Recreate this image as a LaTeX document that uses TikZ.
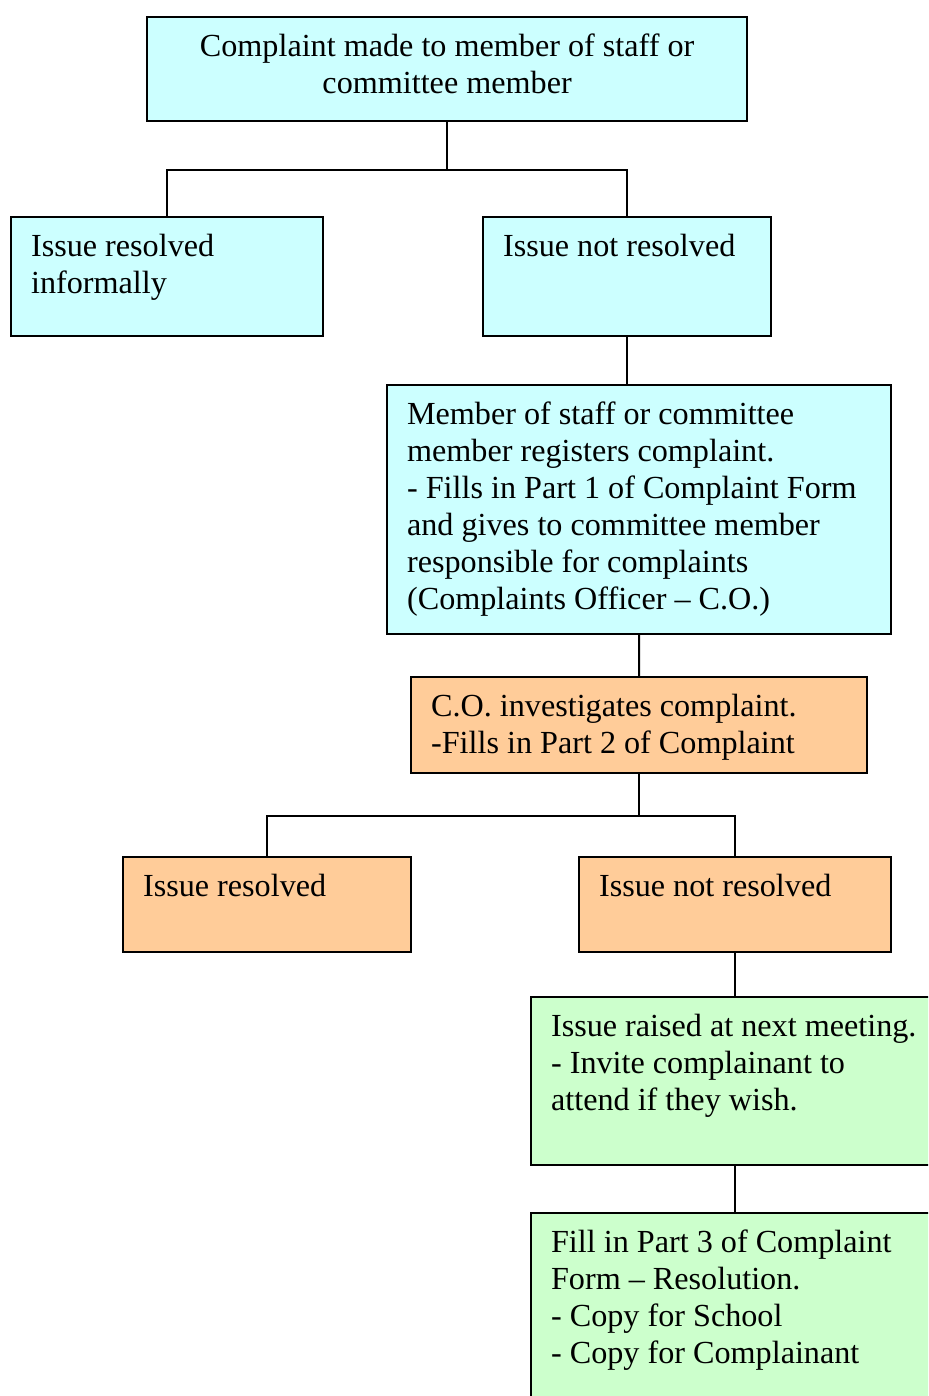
\documentclass[tikz,border=0pt]{standalone}
\usepackage{fontspec}
\setmainfont{Liberation Serif}
\usetikzlibrary{positioning}
\definecolor{boxcyan}{HTML}{CCFFFF}
\definecolor{boxorange}{HTML}{FFCC99}
\definecolor{boxgreen}{HTML}{CCFFCC}

\tikzset{
  flowbox/.style={draw, line width=0.8pt, anchor=north west, inner xsep=7.46pt,
    inner ysep=0pt, text height=14.55pt, align=flush left,
    font=\fontsize{12}{13.8}\selectfont},
  link/.style={line width=0.8pt}
}

\begin{document}
\begin{tikzpicture}[x=0.373pt,y=-0.373pt]
            % page frame
            \useasboundingbox (0,0) rectangle (928,1396);
            \clip (0,0) rectangle (928,1396);

            % first level
            \node[flowbox, fill=boxcyan, align=flush center, text width=208.9pt, text depth=24.25pt] (complaint) at (146,16)
                {Complaint made to member of staff or\\committee member};
            \node[flowbox, fill=boxcyan, text width=101.5pt, text depth=29.84pt] (infresolved) at (10,216)
                {Issue resolved\\informally};
            \node[flowbox, fill=boxcyan, text width=92.5pt, text depth=29.84pt] (notresolved) at (482,216)
                {Issue not resolved};

            % registering the complaint
            \node[flowbox, fill=boxcyan, text width=173.1pt, text depth=78.33pt] (registers) at (386,384)
                {Member of staff or committee\\member registers complaint.\\- Fills in Part 1 of Complaint Form\\and gives to committee member\\responsible for complaints\\(Complaints Officer -- C.O.)};
            \node[flowbox, fill=boxorange, text width=155.2pt, text depth=21.26pt] (investigates) at (410,676)
                {C.O. investigates complaint.\\-Fills in Part 2 of Complaint};

            % second level
            \node[flowbox, fill=boxorange, text width=92.5pt, text depth=20.89pt] (resolved) at (122,856)
                {Issue resolved};
            \node[flowbox, fill=boxorange, text width=101.5pt, text depth=20.89pt] (stillopen) at (578,856)
                {Issue not resolved};

            % meeting and resolution
            \node[flowbox, fill=boxgreen, text width=141.7pt, text depth=48.12pt] (meeting) at (530,996)
                {Issue raised at next meeting.\\- Invite complainant to\\attend if they wish.};
            \node[flowbox, fill=boxgreen, text width=141.7pt, text depth=59.3pt] (resolution) at (530,1212)
                {Fill in Part 3 of Complaint\\Form -- Resolution.\\- Copy for School\\- Copy for Complainant};

            % forks
            \path (complaint.south) ++(0,48) coordinate (fork1);
            \path (investigates.south) ++(0,42) coordinate (fork2);
            \draw[link] (complaint.south) -- (fork1) -| (infresolved.north);
            \draw[link] (fork1) -| (notresolved.north);
            \draw[link] (investigates.south) -- (fork2) -| (resolved.north);
            \draw[link] (fork2) -| (stillopen.north);

            % straight links
            \draw[link] (notresolved.south) -- (notresolved.south |- registers.north);
            \draw[link] (registers.south) -- (investigates.north);
            \draw[link] (stillopen.south) -- (stillopen.south |- meeting.north);
            \draw[link] (stillopen.south |- meeting.south) -- (stillopen.south |- resolution.north);
        \end{tikzpicture}
\end{document}
